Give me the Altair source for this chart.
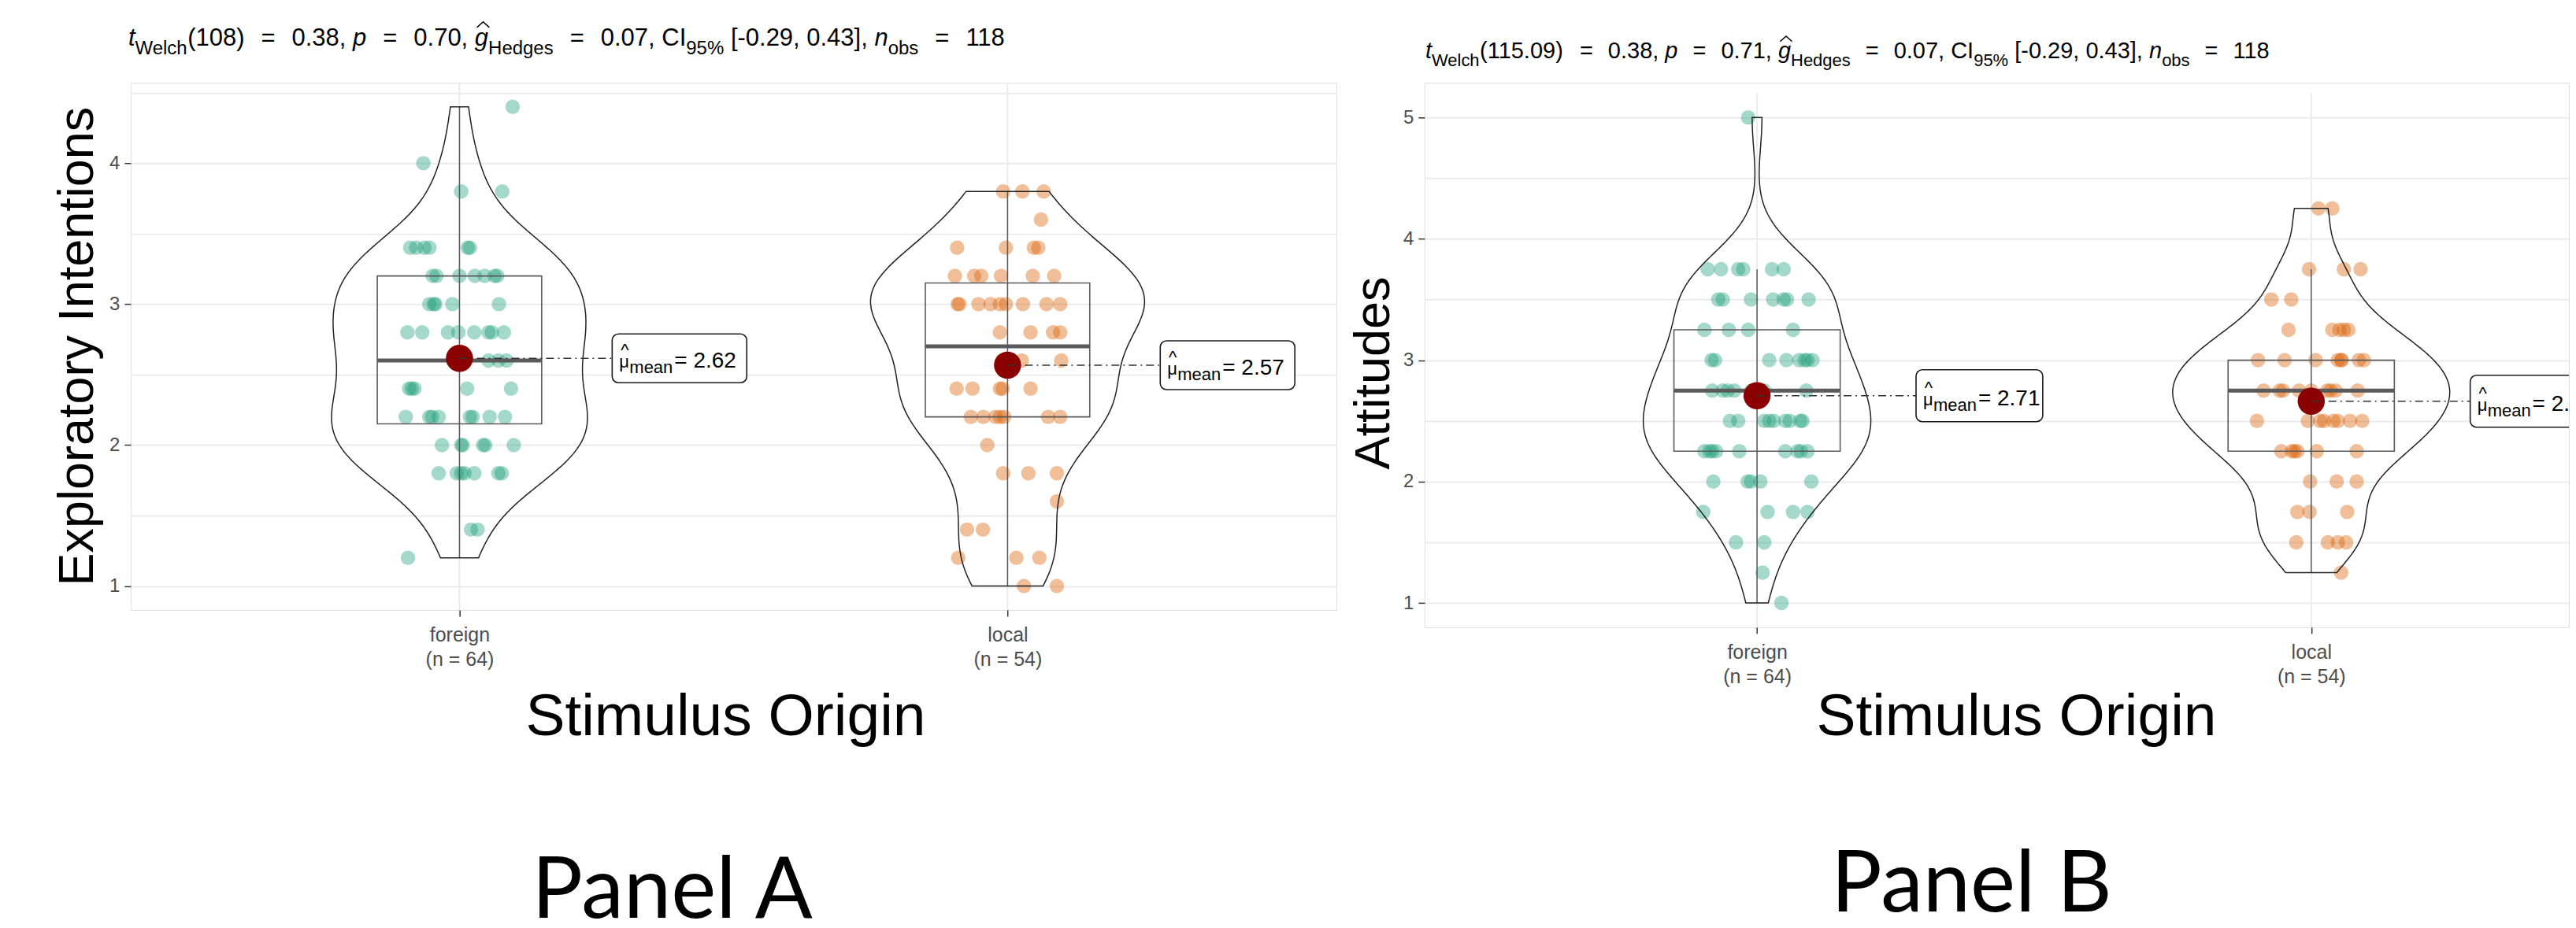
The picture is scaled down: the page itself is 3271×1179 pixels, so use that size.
import json
import altair as alt
import numpy as np
import pandas as pd

# ------------------------------------------------------------------ data
GROUPS = ["foreign", "local"]
GROUP_POS = [1, 2]
GROUP_COLORS = ["#1B9E77", "#D95F02"]
N_LABELS = ["(n = 64)", "(n = 54)"]

A_Y_TITLE = "Exploratory Intentions"
B_Y_TITLE = "Attitudes"
X_TITLE = "Stimulus Origin"
A_PANEL = "Panel A"
B_PANEL = "Panel B"

A_Y_GRID = [1, 1.5, 2, 2.5, 3, 3.5, 4, 4.5]
B_Y_GRID = [1, 1.5, 2, 2.5, 3, 3.5, 4, 4.5, 5]

A_TITLE_SEGS = [("t", "i"), ("Welch", "s"), ("(108)", "m"), ("=", "eq"), ("0.38, ", "m"),
                ("p", "i"), ("=", "eq"), ("0.70, ", "m"), ("g", "ih"), ("Hedges", "s"),
                ("=", "eq"), ("0.07, CI", "m"), ("95%", "s"), (" [-0.29, 0.43], ", "m"),
                ("n", "i"), ("obs", "s"), ("=", "eq"), ("118", "m")]
B_TITLE_SEGS = [("t", "i"), ("Welch", "s"), ("(115.09)", "m"), ("=", "eq"), ("0.38, ", "m"),
                ("p", "i"), ("=", "eq"), ("0.71, ", "m"), ("g", "ih"), ("Hedges", "s"),
                ("=", "eq"), ("0.07, CI", "m"), ("95%", "s"), (" [-0.29, 0.43], ", "m"),
                ("n", "i"), ("obs", "s"), ("=", "eq"), ("118", "m")]

A_FOREIGN_VALUES = [
    4.4, 4.0, 3.8, 3.8,
    3.4, 3.4, 3.4, 3.4, 3.4, 3.4,
    3.2, 3.2, 3.2, 3.2, 3.2, 3.2, 3.2,
    3.0, 3.0, 3.0, 3.0, 3.0,
    2.8, 2.8, 2.8, 2.8, 2.8, 2.8, 2.8, 2.8,
    2.6, 2.6, 2.6, 2.6, 2.6,
    2.4, 2.4, 2.4, 2.4, 2.4,
    2.2, 2.2, 2.2, 2.2, 2.2, 2.2, 2.2, 2.2,
    2.0, 2.0, 2.0, 2.0, 2.0, 2.0,
    1.8, 1.8, 1.8, 1.8, 1.8, 1.8, 1.8,
    1.4, 1.4, 1.2,
]
A_FOREIGN_JITTER = [
    0.097, -0.066, 0.003, 0.078,
    -0.090, -0.079, -0.064, -0.055, 0.015, 0.019,
    -0.049, -0.042, 0.000, 0.028, 0.046, 0.064, 0.069,
    -0.055, -0.047, -0.044, -0.013, 0.072,
    -0.095, -0.068, -0.021, -0.002, 0.027, 0.053, 0.059, 0.081,
    -0.012, 0.008, 0.053, 0.071, 0.086,
    -0.092, -0.087, -0.082, 0.014, 0.094,
    -0.098, -0.055, -0.050, -0.038, 0.019, 0.024, 0.055, 0.083,
    -0.032, 0.003, 0.006, 0.043, 0.047, 0.099,
    -0.038, -0.005, 0.003, 0.009, 0.027, 0.071, 0.077,
    0.021, 0.033, -0.094,
]
A_LOCAL_VALUES = [
    3.8, 3.8, 3.8, 3.6,
    3.4, 3.4, 3.4, 3.4,
    3.2, 3.2, 3.2, 3.2, 3.2, 3.2,
    3.0, 3.0, 3.0, 3.0, 3.0, 3.0, 3.0, 3.0, 3.0,
    2.8, 2.8, 2.8, 2.8,
    2.6, 2.6, 2.6,
    2.4, 2.4, 2.4, 2.4, 2.4,
    2.2, 2.2, 2.2, 2.2, 2.2, 2.2, 2.2,
    2.0, 1.8, 1.8, 1.8, 1.6,
    1.4, 1.4, 1.2, 1.2, 1.2, 1.0, 1.0,
]
A_LOCAL_JITTER = [
    -0.008, 0.027, 0.066, 0.061,
    -0.092, -0.003, 0.048, 0.056,
    -0.096, -0.061, -0.048, -0.012, 0.046, 0.085,
    -0.091, -0.088, -0.053, -0.031, -0.014, -0.003, 0.028, 0.071, 0.096,
    -0.014, 0.042, 0.083, 0.096,
    -0.010, 0.026, 0.098,
    -0.093, -0.064, -0.014, -0.009, 0.042,
    -0.067, -0.044, -0.022, -0.014, -0.006, 0.074, 0.096,
    -0.037, -0.008, 0.038, 0.090, 0.090,
    -0.074, -0.045, -0.090, 0.016, 0.058, 0.030, 0.090,
]
B_FOREIGN_VALUES = [
    5.0,
    3.75, 3.75, 3.75, 3.75, 3.75, 3.75,
    3.5, 3.5, 3.5, 3.5, 3.5, 3.5, 3.5,
    3.25, 3.25, 3.25, 3.25,
    3.0, 3.0, 3.0, 3.0, 3.0, 3.0, 3.0, 3.0,
    2.75, 2.75, 2.75, 2.75, 2.75, 2.75, 2.75,
    2.5, 2.5, 2.5, 2.5, 2.5, 2.5, 2.5, 2.5, 2.5,
    2.25, 2.25, 2.25, 2.25, 2.25, 2.25, 2.25, 2.25, 2.25,
    2.0, 2.0, 2.0, 2.0, 2.0,
    1.75, 1.75, 1.75, 1.75,
    1.5, 1.5, 1.25, 1.0,
]
B_FOREIGN_JITTER = [
    -0.016,
    -0.089, -0.065, -0.034, -0.025, 0.027, 0.048,
    -0.070, -0.062, -0.011, 0.029, 0.048, 0.054, 0.093,
    -0.095, -0.051, -0.016, 0.065,
    -0.082, -0.076, 0.022, 0.053, 0.076, 0.086, 0.091, 0.100,
    -0.081, -0.062, -0.053, -0.041, -0.010, 0.013, 0.089,
    -0.049, -0.034, 0.013, 0.022, 0.030, 0.051, 0.059, 0.078, 0.082,
    -0.095, -0.086, -0.081, -0.074, -0.032, 0.051, 0.073, 0.079, 0.091,
    -0.079, -0.017, -0.011, 0.006, 0.098,
    -0.097, 0.019, 0.065, 0.091,
    -0.038, 0.013, 0.010, 0.044,
]
B_LOCAL_VALUES = [
    4.25, 4.25,
    3.75, 3.75, 3.75,
    3.5, 3.5,
    3.25, 3.25, 3.25, 3.25, 3.25,
    3.0, 3.0, 3.0, 3.0, 3.0, 3.0, 3.0, 3.0,
    2.75, 2.75, 2.75, 2.75, 2.75, 2.75, 2.75, 2.75, 2.75,
    2.5, 2.5, 2.5, 2.5, 2.5, 2.5, 2.5, 2.5,
    2.25, 2.25, 2.25, 2.25, 2.25, 2.25,
    2.0, 2.0, 2.0,
    1.75, 1.75, 1.75,
    1.5, 1.5, 1.5, 1.5,
    1.25,
]
B_LOCAL_JITTER = [
    0.013, 0.038,
    -0.004, 0.059, 0.089,
    -0.072, -0.036,
    -0.041, 0.038, 0.051, 0.059, 0.067,
    -0.096, -0.048, 0.008, 0.048, 0.054, 0.055, 0.086, 0.095,
    -0.086, -0.057, -0.051, -0.022, 0.000, 0.029, 0.035, 0.044, 0.084,
    -0.098, -0.006, 0.016, 0.023, 0.040, 0.048, 0.070, 0.092,
    -0.054, -0.035, -0.030, -0.025, 0.010, 0.082,
    -0.002, 0.046, 0.082,
    -0.025, -0.003, 0.065,
    -0.027, 0.030, 0.048, 0.063,
    0.054,
]

# ------------------------------------------------------------------ style
FONT = "Liberation Sans"
PANEL_FONT = "Lato"
GRID_COLOR = "#EBEBEB"
TICK_COLOR = "#333333"
LABEL_COLOR = "#4D4D4D"
BOX_COLOR = "#5A5A5A"
VIOLIN_COLOR = "#222222"
MEAN_COLOR = "#8B0000"
BOX_HALF = 0.15
VIOLIN_HALF = 0.25
HAT_SHAPE = "M-1,0.45L0,-0.45L1,0.45"

W = {' ': 278, '(': 333, ')': 333, '=': 584, ',': 278, '.': 278, '-': 333, '[': 278,
     ']': 278, '%': 889, 't': 278, 'p': 556, 'g': 556, 'n': 556, 'C': 722, 'I': 278,
     'W': 944, 'e': 556, 'l': 222, 'c': 500, 'h': 556, 'H': 722, 'd': 556, 's': 500,
     'o': 556, 'b': 556}


def tw(s, size):
    return sum(W.get(ch, 556) for ch in s) * size / 1000.0


def nrd0(v):
    v = np.asarray(v, float)
    sd = v.std(ddof=1)
    q75, q25 = np.percentile(v, [75, 25])
    return 0.9 * min(sd, (q75 - q25) / 1.34) * len(v) ** (-0.2)


def kde_max(v, bw):
    v = np.asarray(v, float)
    grid = np.linspace(v.min(), v.max(), 512)
    d = np.exp(-0.5 * ((grid[:, None] - v[None, :]) / bw) ** 2).sum(1)
    return (d / (len(v) * bw * np.sqrt(2 * np.pi))).max()


ONE = pd.DataFrame({"k": [0]})


def static_text(text, x, y, size, font=FONT, angle=0, align="center", color="#000000"):
    props = dict(text=text, fontSize=size, font=font, align=align,
                 baseline="alphabetic", color=color)
    if angle:
        props["angle"] = angle
    return alt.Chart(ONE).mark_text(**props).encode(x=alt.value(x), y=alt.value(y))


def title_layers(segs, x0, y0, main, sub, gap):
    rows = []
    hats = []
    x = x0
    for text, kind in segs:
        if kind == "eq":
            x += gap
            rows.append(dict(text=text, px=x, py=y0, kind="m"))
            x += tw(text, main) + gap
        elif kind == "s":
            rows.append(dict(text=text, px=x, py=y0 + round(main * 0.36), kind="s"))
            x += tw(text, sub)
        else:
            k = "i" if kind in ("i", "ih") else "m"
            if text.startswith(" "):
                x += tw(" ", main)
                text = text[1:]
            rows.append(dict(text=text, px=x, py=y0, kind=k))
            w = tw(text, main)
            if kind == "ih":
                hats.append(dict(px=x + w / 2 + 2, py=y0 - round(main * 0.87)))
            x += w
    df = pd.DataFrame(rows)
    specs = {
        "m": dict(fontSize=main),
        "i": dict(fontSize=main, fontStyle="italic"),
        "s": dict(fontSize=sub),
    }
    out = []
    for kind, props in specs.items():
        part = df[df["kind"] == kind]
        out.append(
            alt.Chart(part).mark_text(baseline="alphabetic", align="left", font=FONT,
                                      color="#000000", **props)
            .encode(x=alt.X("px:Q", scale=None, axis=None),
                    y=alt.Y("py:Q", scale=None, axis=None),
                    text="text:N")
        )
    out.append(
        alt.Chart(pd.DataFrame(hats)).mark_point(shape=HAT_SHAPE, filled=False, size=main * 8,
                                                 color="#000000", strokeWidth=1.5, opacity=1)
        .encode(x=alt.X("px:Q", scale=None, axis=None), y=alt.Y("py:Q", scale=None, axis=None))
    )
    return out


def build_panel(cfg):
    vf, jf, vl, jl = cfg["vf"], cfg["jf"], cfg["vl"], cfg["jl"]
    df = pd.DataFrame({
        "group": [GROUPS[0]] * len(vf) + [GROUPS[1]] * len(vl),
        "pos": [GROUP_POS[0]] * len(vf) + [GROUP_POS[1]] * len(vl),
        "value": vf + vl,
        "jitter": jf + jl,
    })
    bws = [nrd0(vf), nrd0(vl)]
    dmax = max(kde_max(vf, bws[0]), kde_max(vl, bws[1]))
    kscale = VIOLIN_HALF / dmax
    top, height = cfg["top"], cfg["height"]

    lab0 = json.dumps([GROUPS[0], N_LABELS[0]])
    lab1 = json.dumps([GROUPS[1], N_LABELS[1]])
    xscale = alt.Scale(domain=cfg["xdom"], nice=False, zero=False)
    yscale = alt.Scale(domain=cfg["ydom"], nice=False, zero=False, range=[height, top])
    xaxis = alt.Axis(values=GROUP_POS, labelExpr=f"datum.value == {GROUP_POS[0]} ? {lab0} : {lab1}",
                     title=None, grid=False, domain=False,
                     tickColor=TICK_COLOR, tickSize=8, tickWidth=1.5, labelFont=FONT,
                     labelFontSize=25, labelColor=LABEL_COLOR, labelLineHeight=31,
                     labelPadding=12)
    yaxis = alt.Axis(values=cfg["ygrid"],
                     labelExpr="datum.value % 1 === 0 ? format(datum.value, 'd') : ''",
                     tickOpacity={"condition": {"test": "datum.value % 1 !== 0", "value": 0}, "value": 1},
                     title=None, grid=True, gridColor=GRID_COLOR, gridWidth=2, domain=False,
                     tickColor=TICK_COLOR, tickSize=8, tickWidth=1.5, labelFont=FONT,
                     labelFontSize=24, labelColor=LABEL_COLOR, labelPadding=6)

    def X(f):
        return alt.X(f, type="quantitative", scale=xscale, axis=xaxis)

    def Y(f):
        return alt.Y(f, type="quantitative", scale=yscale, axis=yaxis)

    vgrid = alt.Chart(pd.DataFrame({"pos": GROUP_POS})).mark_rule(
        color=GRID_COLOR, strokeWidth=2).encode(x=X("pos"), y=alt.value(top), y2=alt.value(height))

    base = alt.Chart(df)
    points = base.transform_calculate(xj="datum.pos + datum.jitter").mark_circle(
        size=340, opacity=0.4).encode(
        x=X("xj"), y=Y("value"),
        color=alt.Color("group:N", scale=alt.Scale(domain=GROUPS, range=GROUP_COLORS), legend=None))

    box = base.transform_aggregate(q1="q1(value)", q3="q3(value)", med="median(value)",
                                   groupby=["pos"]).transform_calculate(
        bl=f"datum.pos - {BOX_HALF}", br=f"datum.pos + {BOX_HALF}")
    box_rect = box.mark_rect(fillOpacity=0, stroke=BOX_COLOR, strokeWidth=1.6).encode(
        x=X("bl"), x2="br", y=Y("q1"), y2="q3")
    median = box.mark_rule(color=BOX_COLOR, strokeWidth=5).encode(x=X("bl"), x2="br", y=Y("med"))
    whisk = base.transform_joinaggregate(q1="q1(value)", q3="q3(value)", groupby=["pos"]).transform_filter(
        "datum.value >= datum.q1 - 1.5*(datum.q3-datum.q1) && datum.value <= datum.q3 + 1.5*(datum.q3-datum.q1)"
    ).transform_aggregate(wmin="min(value)", wmax="max(value)", groupby=["pos"]).mark_rule(
        color=BOX_COLOR, strokeWidth=1.5).encode(x=X("pos"), y=Y("wmin"), y2="wmax")

    violins = []
    for g, bw in zip(GROUPS, bws):
        violins.append(
            base.transform_filter(f"datum.group === '{g}'").transform_density(
                "value", as_=["value", "density"], bandwidth=float(bw), groupby=["pos"], steps=200
            ).transform_calculate(
                left=f"datum.pos - datum.density * {kscale}",
                right=f"datum.pos + datum.density * {kscale}"
            ).mark_area(orient="horizontal", fillOpacity=0, stroke=VIOLIN_COLOR, strokeWidth=1.5).encode(
                y=Y("value"), x=X("left"), x2="right")
        )

    gap, lw, lh = cfg["gap"], cfg["lw"], cfg["lh"]
    mean = base.transform_aggregate(m="mean(value)", groupby=["pos"]).transform_calculate(
        lbl="'= ' + format(datum.m, '.2f')")
    mean_rule = mean.mark_rule(x2Offset=gap, strokeDash=[10, 5, 2, 5], color="#333333",
                               strokeWidth=1.6, clip=True).encode(x=X("pos"), x2="pos", y=Y("m"))
    mean_pt = mean.mark_circle(size=1190, color=MEAN_COLOR, opacity=1).encode(x=X("pos"), y=Y("m"))
    lab_box = mean.mark_rect(xOffset=gap, x2Offset=gap + lw, yOffset=-lh / 2, y2Offset=lh / 2,
                             cornerRadius=8, fill="white", stroke="#1A1A1A", strokeWidth=1.6,
                             clip=True).encode(x=X("pos"), x2="pos", y=Y("m"), y2="m")
    t_mu = mean.mark_text(text="\u03bc", xOffset=gap + 9, yOffset=12, fontSize=22, font=FONT,
                          align="left", baseline="alphabetic", color="#000000", clip=True).encode(
        x=X("pos"), y=Y("m"))
    t_hat = mean.mark_text(text="^", xOffset=gap + 16, yOffset=-3, fontSize=22, font=FONT,
                           align="center", baseline="alphabetic", color="#000000", clip=True).encode(
        x=X("pos"), y=Y("m"))
    t_sub = mean.mark_text(text="mean", xOffset=gap + 22, yOffset=19, fontSize=22, font=FONT,
                           align="left", baseline="alphabetic", color="#000000", clip=True).encode(
        x=X("pos"), y=Y("m"))
    t_val = mean.mark_text(xOffset=gap + 79, yOffset=12, fontSize=28, font=FONT,
                           align="left", baseline="alphabetic", color="#000000", clip=True).encode(
        x=X("pos"), y=Y("m"), text="lbl:N")

    texts = title_layers(cfg["title"], cfg["title_x"], cfg["title_y"],
                         cfg["tsize"], cfg["tsub"], cfg["tgap"])
    texts.append(static_text(cfg["ytitle"], cfg["ytitle_x"], cfg["ytitle_y"], 63, angle=270))
    texts.append(static_text(X_TITLE, cfg["xtitle_x"], cfg["xtitle_y"], 75))
    texts.append(static_text(cfg["panel"], cfg["panel_x"], cfg["panel_y"], 108, font=PANEL_FONT))
    if cfg.get("anchor") is not None:
        texts.append(alt.Chart(ONE).mark_point(size=4, filled=True, opacity=0).encode(
            x=alt.value(20), y=alt.value(cfg["anchor"])))

    layers = [vgrid, points, box_rect, whisk, median] + violins + [
        mean_pt, mean_rule, lab_box, t_mu, t_hat, t_sub, t_val] + texts
    return alt.layer(*layers).properties(width=cfg["width"], height=height)


A_CFG = dict(vf=A_FOREIGN_VALUES, jf=A_FOREIGN_JITTER, vl=A_LOCAL_VALUES, jl=A_LOCAL_JITTER,
             width=1532, height=670, top=0, xdom=[0.4, 2.6], ydom=[0.83, 4.57], ygrid=A_Y_GRID,
             title=A_TITLE_SEGS, title_x=-3, title_y=-47, tsize=31, tsub=24, tgap=21,
             ytitle=A_Y_TITLE, ytitle_x=-48, ytitle_y=335,
             xtitle_x=756, xtitle_y=829, panel=A_PANEL, panel_x=688, panel_y=1061,
             gap=194, lw=171, lh=62, anchor=-83)
B_CFG = dict(vf=B_FOREIGN_VALUES, jf=B_FOREIGN_JITTER, vl=B_LOCAL_VALUES, jl=B_LOCAL_JITTER,
             width=1454, height=692, top=13, xdom=[0.4, 2.465], ydom=[0.8, 5.2], ygrid=B_Y_GRID,
             title=B_TITLE_SEGS, title_x=1, title_y=-31, tsize=29, tsub=22, tgap=19,
             ytitle=B_Y_TITLE, ytitle_x=-45, ytitle_y=369,
             xtitle_x=752, xtitle_y=829, panel=B_PANEL, panel_x=695, panel_y=1053,
             gap=202, lw=161, lh=66, anchor=None)

chart = alt.hconcat(build_panel(A_CFG), build_panel(B_CFG), spacing=15).properties(
    padding={"left": 59, "top": 12, "right": 0, "bottom": 0}
).configure_view(stroke="transparent").configure(background="white")

chart.save("out.html", embed_options={"renderer": "svg", "actions": False})
